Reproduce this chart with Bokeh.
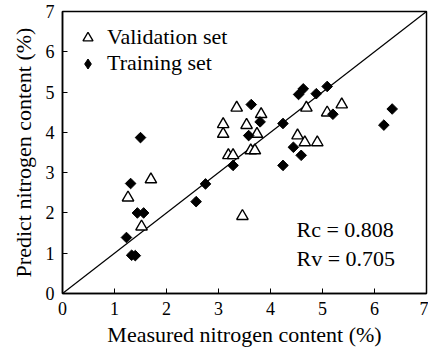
from bokeh.plotting import figure
from bokeh.models import Range1d, FixedTicker, Legend, LegendItem, Label
from bokeh.embed import file_html
from bokeh.resources import INLINE
import math

# Data
train_x = [1.23, 1.31, 1.44, 1.56, 1.33, 1.40, 1.50, 2.57, 2.75, 3.28, 3.63, 3.80,
           3.58, 4.24, 4.44, 4.59, 4.24, 4.54, 4.63, 4.88, 5.09, 5.20, 6.34, 6.18]
train_y = [1.39, 2.73, 2.00, 2.00, 0.95, 0.94, 3.87, 2.28, 2.72, 3.18, 4.69, 4.26,
           3.92, 4.22, 3.63, 3.43, 3.18, 4.94, 5.08, 4.96, 5.14, 4.45, 4.58, 4.18]
valid_x = [1.26, 1.70, 1.52, 3.46, 3.19, 3.28, 3.09, 3.09, 3.35, 3.54, 3.82, 3.74,
           3.62, 3.70, 4.69, 4.52, 4.66, 4.90, 5.09, 5.37]
valid_y = [2.38, 2.83, 1.66, 1.92, 3.43, 3.43, 4.20, 3.96, 4.61, 4.18, 4.45, 3.96,
           3.55, 3.55, 4.61, 3.92, 3.75, 3.75, 4.49, 4.69]
ticks = [0, 1, 2, 3, 4, 5, 6, 7]
diag = [0, 7]
series_labels = ["Validation set", "Training set"]
stats_text = ["Rc = 0.808", "Rv = 0.705"]
stats_x = [4.5, 4.5]
stats_y = [1.60, 0.86]

FONT = "Liberation Serif"

p = figure(width=428, height=349, output_backend="svg", toolbar_location=None,
           x_range=Range1d(0, 7), y_range=Range1d(0, 7),
           min_border_left=62, min_border_right=2, min_border_top=11, min_border_bottom=54)

p.grid.visible = False
p.outline_line_color = "black"
p.outline_line_width = 1.5
p.background_fill_color = "white"
p.border_fill_color = "white"

for ax in (p.xaxis[0], p.yaxis[0]):
    ax.ticker = FixedTicker(ticks=ticks)
    ax.major_tick_in = 5
    ax.major_tick_out = 0
    ax.minor_tick_line_color = None
    ax.axis_line_width = 1.5
    ax.axis_line_color = "black"
    ax.major_tick_line_color = "black"
    ax.major_tick_line_width = 1
    ax.major_label_text_font = FONT
    ax.major_label_text_font_size = "18px"
    ax.major_label_text_color = "black"
    ax.axis_label_text_font = FONT
    ax.axis_label_text_font_size = "22px"
    ax.axis_label_text_font_style = "normal"
    ax.axis_label_text_color = "black"

p.xaxis.axis_label = "Measured nitrogen content (%)"
p.yaxis.axis_label = "Predict nitrogen content (%)"
p.xaxis.major_label_standoff = 8
p.yaxis.major_label_standoff = 8
p.xaxis.axis_label_standoff = 4
p.yaxis.axis_label_standoff = 7

p.line(diag, diag, line_color="black", line_width=1.2)

r_valid = p.scatter(valid_x, valid_y, marker="triangle", size=11.5, fill_color="white",
                    line_color="black", line_width=1.4)
r_train = p.scatter(train_x, train_y, marker="square", angle=math.pi / 4, size=7.5,
                    fill_color="black", line_color="black", line_width=1)
# legend-only key glyph (legend icons are never rotated, so use a diamond marker);
# it holds no plottable point
nan = float("nan")
r_train_key = p.scatter([nan], [nan], marker="diamond", fill_color="black",
                        line_color="black")

legend = Legend(items=[LegendItem(label=series_labels[0], renderers=[r_valid]),
                       LegendItem(label=series_labels[1], renderers=[r_train_key])],
                location="top_left")
legend.margin = 0
legend.padding = 13
legend.spacing = 0
legend.glyph_width = 25
legend.glyph_height = 25
legend.label_height = 25
legend.label_standoff = 7
legend.label_text_font = FONT
legend.label_text_font_size = "22px"
legend.label_text_color = "black"
legend.border_line_alpha = 0
legend.background_fill_alpha = 0
p.add_layout(legend)

for t, x, y in zip(stats_text, stats_x, stats_y):
    p.add_layout(Label(x=x, y=y, text=t, text_font=FONT, text_font_size="22px",
                       text_color="black", text_baseline="alphabetic", text_align="left"))

open("out.html", "w").write(file_html(p, INLINE))
